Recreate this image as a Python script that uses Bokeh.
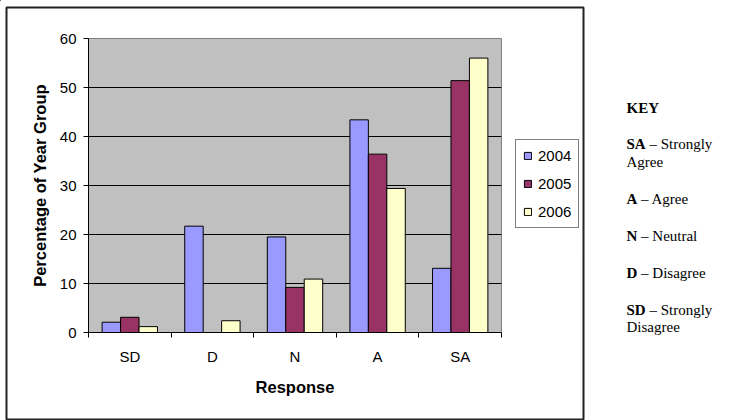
import numpy as np
from bokeh.plotting import figure
from bokeh.models import (Range1d, FixedTicker, Legend, LegendItem, Label,
                          ColumnDataSource, GridBox)
from bokeh.embed import file_html
from bokeh.resources import INLINE

# ---- data ----
categories = ["SD", "D", "N", "A", "SA"]
years = ["2004", "2005", "2006"]
pct_2004 = [2.1, 21.7, 19.5, 43.4, 13.1]
pct_2005 = [3.1, 0.0, 9.2, 36.4, 51.4]
pct_2006 = [1.2, 2.4, 10.9, 29.4, 56.0]
y_ticks = [0, 10, 20, 30, 40, 50, 60]
key_title = "KEY"
key_lines = [("SA", "\u00a0\u2013 Strongly"), ("", "Agree"), ("A", "\u00a0\u2013 Agree"),
             ("N", "\u00a0\u2013 Neutral"), ("D", "\u00a0\u2013 Disagree"),
             ("SD", "\u00a0\u2013 Strongly"), ("", "Disagree")]

colors = ["#9999FF", "#993366", "#FFFFCC"]
SANS = "Liberation Sans"
SERIF = "Liberation Serif"
W, H = 735, 420

# ---- chart layer (bottom) ----
p = figure(width=W, height=H, output_backend="svg", toolbar_location=None,
           x_range=Range1d(0, len(categories)), y_range=Range1d(0, 60),
           min_border_left=88, min_border_right=234, min_border_top=38,
           min_border_bottom=88)
p.background_fill_color = "#C0C0C0"
p.border_fill_color = "white"
p.outline_line_color = "#808080"
p.outline_line_width = 1

centers = np.arange(len(categories)) + 0.5
bw = 0.2234
series = [pct_2004, pct_2005, pct_2006]
for i, (yr, vals, col) in enumerate(zip(years, series, colors)):
    src = ColumnDataSource(dict(x=centers + (i - 1) * bw, top=vals))
    p.vbar(x="x", top="top", width=bw, source=src, fill_color=col,
           line_color="black", line_width=1)

p.yaxis.ticker = FixedTicker(ticks=y_ticks)
p.yaxis.major_tick_out = 5
p.yaxis.major_tick_in = 0
p.yaxis.minor_tick_line_color = None
p.yaxis.axis_line_color = "black"
p.yaxis.major_label_text_font = SANS
p.yaxis.major_label_text_font_size = "15px"
p.yaxis.major_label_text_color = "black"
p.yaxis.major_label_standoff = 7
p.yaxis.axis_label = "Percentage of Year Group"
p.yaxis.axis_label_text_font = SANS
p.yaxis.axis_label_text_font_style = "bold"
p.yaxis.axis_label_text_font_size = "16.5px"
p.yaxis.axis_label_text_color = "black"
p.yaxis.axis_label_standoff = 8

p.xaxis.ticker = FixedTicker(ticks=list(centers),
                             minor_ticks=list(range(len(categories) + 1)))
p.xaxis.major_label_overrides = {float(c): lab for c, lab in zip(centers, categories)}
p.xaxis.major_tick_out = 0
p.xaxis.major_tick_in = 0
p.xaxis.minor_tick_out = 5
p.xaxis.minor_tick_in = 0
p.xaxis.minor_tick_line_color = "black"
p.xaxis.axis_line_color = "black"
p.xaxis.major_label_text_font = SANS
p.xaxis.major_label_text_font_size = "15px"
p.xaxis.major_label_text_color = "black"
p.xaxis.major_label_standoff = 10
p.xaxis.axis_label = "Response"
p.xaxis.axis_label_text_font = SANS
p.xaxis.axis_label_text_font_style = "bold"
p.xaxis.axis_label_text_font_size = "16.5px"
p.xaxis.axis_label_text_color = "black"
p.xaxis.axis_label_standoff = 10

p.xgrid.grid_line_color = None
p.ygrid.grid_line_color = "black"
p.ygrid.grid_line_width = 1
p.ygrid.ticker = FixedTicker(ticks=y_ticks)

# ---- overlay layer (top, transparent): outer border, legend, KEY ----
ov = figure(width=W, height=H, output_backend="svg", toolbar_location=None,
            x_range=Range1d(0, W), y_range=Range1d(H, 0),
            x_axis_type=None, y_axis_type=None, min_border=0)
ov.outline_line_color = None
ov.grid.grid_line_color = None
ov.background_fill_alpha = 0
ov.border_fill_alpha = 0
if "frame_align" in ov.properties():
    ov.frame_align = False
    p.frame_align = False
ov.quad(left=6, right=583, top=7, bottom=419, fill_color=None,
        line_color="#222222", line_width=2)

# legend proxies: one off-canvas swatch per series (never visible)
items = []
for yr, col in zip(years, colors):
    r = ov.vbar(x=[-100], bottom=[-100], top=[-90], width=1, fill_color=col,
                line_color="black", line_width=1)
    items.append(LegendItem(label=yr, renderers=[r]))
legend = Legend(items=items, location=(515, 192), orientation="vertical",
                label_text_font=SANS, label_text_font_size="15px",
                label_text_color="black", glyph_width=9, glyph_height=9,
                label_height=17, label_standoff=6, spacing=11, padding=7,
                margin=0, border_line_color="black", border_line_width=1,
                background_fill_color="white", background_fill_alpha=1)
ov.add_layout(legend, "center")

kx = 626
ov.add_layout(Label(x=kx, y=107, text=key_title, text_font=SERIF,
                    text_font_size="15px", text_font_style="bold",
                    text_color="black", text_baseline="alphabetic"))
baselines = [143.5, 161, 198, 235, 272, 309, 326.5]
bold_w = {"SA": 19.2, "SD": 19.2, "A": 10.8, "N": 10.8, "D": 10.8, "": 0}
for (b, rest), by in zip(key_lines, baselines):
    if b:
        ov.add_layout(Label(x=kx, y=by, text=b, text_font=SERIF,
                            text_font_size="15px", text_font_style="bold",
                            text_color="black", text_baseline="alphabetic"))
    ov.add_layout(Label(x=kx + bold_w[b], y=by, text=rest, text_font=SERIF,
                        text_font_size="15px", text_color="black",
                        text_baseline="alphabetic"))

layout = GridBox(children=[(p, 0, 0), (ov, 0, 0)])

open("out.html", "w").write(file_html(layout, INLINE))
